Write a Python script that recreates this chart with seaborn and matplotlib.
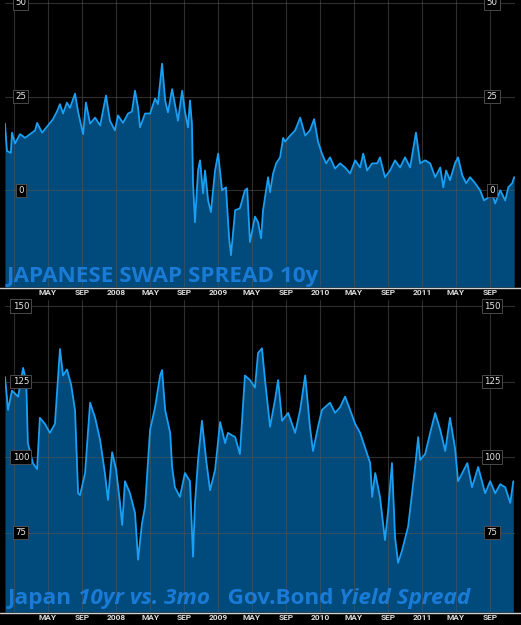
import pandas as pd
import matplotlib
matplotlib.use("Agg")
import matplotlib.pyplot as plt
import matplotlib.dates as mdates
import matplotlib.transforms as mtransforms
from matplotlib.lines import Line2D
from matplotlib.ticker import FuncFormatter
import seaborn as sns

# Japanese swap spread 10y (bp)
swap_dates = [
    "2006-11-28", "2006-12-05", "2006-12-19", "2006-12-23", "2007-01-03", "2007-01-21",
    "2007-02-08", "2007-02-26", "2007-03-16", "2007-03-23", "2007-04-10", "2007-05-01",
    "2007-05-19", "2007-06-02", "2007-06-13", "2007-06-24", "2007-07-08", "2007-07-19",
    "2007-08-06", "2007-08-17", "2007-08-24", "2007-09-04", "2007-09-14", "2007-09-29",
    "2007-10-17", "2007-11-04", "2007-11-25", "2007-12-09", "2007-12-27", "2008-01-07",
    "2008-01-25", "2008-02-12", "2008-02-26", "2008-03-08", "2008-03-19", "2008-03-26",
    "2008-04-13", "2008-05-01", "2008-05-19", "2008-05-29", "2008-06-13", "2008-06-24",
    "2008-07-04", "2008-07-19", "2008-07-29", "2008-08-09", "2008-08-24", "2008-09-03",
    "2008-09-14", "2008-09-21", "2008-09-28", "2008-10-02", "2008-10-09", "2008-10-20",
    "2008-10-27", "2008-11-07", "2008-11-14", "2008-11-25", "2008-12-05", "2008-12-20",
    "2008-12-31", "2009-01-14", "2009-01-28", "2009-02-08", "2009-02-15", "2009-03-02",
    "2009-03-19", "2009-04-06", "2009-04-14", "2009-04-24", "2009-05-12", "2009-05-23",
    "2009-06-03", "2009-06-10", "2009-06-21", "2009-06-28", "2009-07-05", "2009-07-16",
    "2009-07-27", "2009-08-10", "2009-08-21", "2009-08-28", "2009-09-15", "2009-10-03",
    "2009-10-21", "2009-11-08", "2009-11-25", "2009-12-10", "2009-12-24", "2010-01-07",
    "2010-01-22", "2010-02-05", "2010-02-23", "2010-03-13", "2010-03-31", "2010-04-18",
    "2010-05-06", "2010-05-24", "2010-06-04", "2010-06-18", "2010-07-06", "2010-07-24",
    "2010-08-03", "2010-08-21", "2010-09-08", "2010-09-26", "2010-10-14", "2010-11-01",
    "2010-11-19", "2010-12-10", "2010-12-25", "2011-01-12", "2011-01-30", "2011-02-17",
    "2011-03-07", "2011-03-18", "2011-03-28", "2011-04-11", "2011-04-29", "2011-05-10",
    "2011-05-25", "2011-06-08", "2011-06-22", "2011-07-10", "2011-07-28", "2011-08-11",
    "2011-08-26", "2011-09-09", "2011-09-20", "2011-10-08", "2011-10-26", "2011-11-06",
    "2011-11-20", "2011-11-27",
]
swap_values = [
    17.8, 10.5, 10.0, 15.4, 12.5, 15.0,
    14.0, 15.0, 16.0, 18.0, 15.4, 17.3,
    19.0, 21.0, 23.0, 20.5, 23.4, 22.0,
    25.8, 21.0, 18.6, 15.0, 23.4, 17.8,
    19.4, 17.3, 25.3, 18.6, 16.0, 20.0,
    18.0, 20.5, 21.0, 26.6, 22.0, 16.8,
    20.5, 20.5, 24.5, 23.0, 33.8, 24.0,
    20.8, 27.0, 23.0, 18.6, 26.6, 21.0,
    16.8, 24.0, 17.8, 1.8, -8.5, 5.3,
    8.0, -0.8, 5.3, -2.7, -5.8, 5.3,
    9.8, 0.0, 0.8, -12.5, -17.3, -5.3,
    -4.8, 0.0, 0.5, -13.8, -7.0, -8.5,
    -12.8, -5.3, 0.0, 3.5, -0.5, 4.5,
    7.2, 8.8, 14.0, 13.0, 14.6, 16.0,
    19.4, 14.6, 16.0, 19.0, 13.0, 9.8,
    7.2, 8.8, 5.8, 7.2, 6.1, 4.5,
    8.0, 6.1, 9.8, 5.3, 7.2, 7.2,
    8.8, 3.5, 5.3, 8.0, 6.1, 8.8,
    6.1, 15.4, 7.2, 8.0, 7.2, 3.5,
    6.1, 0.8, 5.3, 2.7, 7.2, 8.8,
    4.0, 1.9, 3.5, 1.9, 0.0, -2.7,
    -1.9, -0.8, -3.5, 0.0, -2.7, 0.8,
    1.9, 3.5,
]

# Japan 10yr vs 3mo government bond yield spread (bp)
curve_dates = [
    "2006-11-28", "2006-12-09", "2006-12-23", "2007-01-14", "2007-02-01", "2007-02-12",
    "2007-02-18", "2007-03-08", "2007-03-23", "2007-04-02", "2007-04-20", "2007-05-08",
    "2007-05-26", "2007-06-13", "2007-06-24", "2007-07-08", "2007-07-23", "2007-08-06",
    "2007-08-17", "2007-08-24", "2007-09-11", "2007-09-29", "2007-10-17", "2007-11-04",
    "2007-11-21", "2007-12-02", "2007-12-17", "2007-12-31", "2008-01-14", "2008-01-22",
    "2008-02-01", "2008-02-19", "2008-03-08", "2008-03-19", "2008-04-02", "2008-04-13",
    "2008-04-24", "2008-05-01", "2008-05-19", "2008-06-06", "2008-06-13", "2008-06-24",
    "2008-07-12", "2008-07-19", "2008-07-29", "2008-08-16", "2008-09-03", "2008-09-21",
    "2008-10-02", "2008-10-09", "2008-10-20", "2008-11-03", "2008-11-18", "2008-12-02",
    "2008-12-20", "2009-01-07", "2009-01-25", "2009-02-04", "2009-03-02", "2009-03-19",
    "2009-04-06", "2009-04-24", "2009-05-12", "2009-05-23", "2009-06-06", "2009-06-17",
    "2009-07-05", "2009-07-23", "2009-08-03", "2009-08-17", "2009-09-08", "2009-10-03",
    "2009-10-21", "2009-11-08", "2009-11-25", "2009-12-06", "2009-12-24", "2010-01-07",
    "2010-02-05", "2010-02-23", "2010-03-13", "2010-03-31", "2010-04-18", "2010-05-06",
    "2010-05-24", "2010-06-11", "2010-06-29", "2010-07-06", "2010-07-17", "2010-08-03",
    "2010-08-21", "2010-09-01", "2010-09-15", "2010-09-26", "2010-10-07", "2010-10-21",
    "2010-11-12", "2010-11-26", "2010-12-07", "2010-12-18", "2010-12-25", "2011-01-12",
    "2011-01-30", "2011-02-17", "2011-03-07", "2011-03-25", "2011-04-11", "2011-04-29",
    "2011-05-10", "2011-05-25", "2011-06-12", "2011-06-29", "2011-07-21", "2011-08-15",
    "2011-09-02", "2011-09-20", "2011-10-08", "2011-10-26", "2011-11-13", "2011-11-24",
]
curve_values = [
    126.5, 115.6, 122.0, 120.0, 129.5, 125.0,
    104.6, 98.0, 96.0, 113.0, 111.0, 108.0,
    111.0, 135.8, 127.0, 129.0, 124.0, 115.5,
    88.0, 87.4, 94.7, 118.0, 113.0, 105.6,
    94.7, 85.8, 101.6, 96.0, 85.0, 77.5,
    92.0, 88.0, 81.5, 66.0, 78.0, 83.5,
    99.0, 109.0, 116.5, 127.0, 128.8, 115.6,
    108.0, 96.7, 90.0, 86.8, 94.7, 92.0,
    67.0, 84.8, 99.0, 112.0, 99.0, 89.0,
    95.7, 111.6, 104.6, 108.0, 106.6, 101.0,
    127.0, 125.5, 123.0, 134.4, 136.0, 125.5,
    110.0, 119.0, 125.5, 112.0, 114.6, 108.0,
    115.6, 127.0, 110.0, 102.0, 110.0, 115.6,
    118.0, 114.6, 116.5, 120.0, 115.6, 111.0,
    108.0, 103.0, 98.0, 86.8, 94.7, 86.8,
    72.5, 82.0, 98.0, 73.5, 65.0, 69.0,
    77.0, 88.0, 96.7, 106.6, 99.0, 101.0,
    108.0, 114.6, 109.0, 102.0, 113.0, 103.0,
    92.0, 94.7, 98.0, 90.0, 96.7, 88.0,
    92.0, 88.0, 91.0, 90.0, 84.8, 92.0,
]

swap_yticks = [0, 25, 50]
curve_yticks = [75, 100, 125, 150]
swap_title = [("JAPANESE SWAP SPREAD 10y", "normal")]
curve_title = [("Japan ", "normal"), ("10yr vs. 3mo", "italic"),
               ("   Gov.Bond ", "normal"), ("Yield Spread", "italic")]

FILL = "#004a7c"
LINE = "#1a9ff2"
TITLE = "#1a7bd6"
X_START = pd.Timestamp("2006-11-28")
X_END = pd.Timestamp("2011-11-30")

sns.set_theme(style="dark")
plt.rcParams["font.family"] = ["Open Sans", "DejaVu Sans"]

fig = plt.figure(figsize=(5.21, 6.25), dpi=100, facecolor="black")
ax1 = fig.add_axes([5 / 521, 1 - 287 / 625, 510 / 521, 287 / 625])
ax2 = fig.add_axes([5 / 521, 1 - 612 / 625, 510 / 521, 312 / 625])


def month_label(x, pos):
    d = mdates.num2date(x)
    if d.month == 1:
        # the first January sits under the left price labels and is not printed
        if d.year == 2007:
            return ""
        return str(d.year)
    return d.strftime("%b").upper()


def draw_panel(ax, dates, values, ylim, yticks):
    df = pd.DataFrame({"date": pd.to_datetime(dates), "value": values})
    ax.set_facecolor("black")
    ax.fill_between(df["date"], df["value"], ylim[0], color=FILL, lw=0, zorder=1)
    sns.lineplot(data=df, x="date", y="value", ax=ax, color=LINE, lw=1.3, zorder=2)
    ax.set_xlim(X_START, X_END)
    ax.set_ylim(*ylim)
    ax.set_xlabel("")
    ax.set_ylabel("")
    ax.set_yticks(yticks)
    ax.set_yticklabels([])
    ax.tick_params(axis="y", length=0)
    ax.xaxis.set_major_locator(mdates.MonthLocator(bymonth=[1, 5, 9]))
    ax.xaxis.set_major_formatter(FuncFormatter(month_label))
    ax.tick_params(axis="x", length=0, pad=1.6, labelsize=6.0, colors="#dddddd")
    for lab in ax.get_xticklabels():
        lab.set_fontfamily("Roboto")
        lab.set_fontweight("bold")
    ax.grid(True, color="#555555", lw=0.8, alpha=0.55)
    ax.set_axisbelow("line")
    for s in ax.spines.values():
        s.set_visible(False)
    trans = mtransforms.blended_transform_factory(ax.transAxes, ax.transData)
    box = dict(boxstyle="square,pad=0.25", fc="black", ec="#555555", lw=0.6)
    for v in yticks:
        for xpos in (0.031, 0.955):
            ax.text(xpos, v, str(v), transform=trans, ha="center", va="center",
                    fontsize=6.2, color="#e8e8e8", family="DejaVu Sans",
                    bbox=box, zorder=5, clip_on=False)


def rich_title(ax, x, y, parts):
    renderer = fig.canvas.get_renderer()
    for s, style in parts:
        t = ax.text(x, y, s, transform=ax.transAxes, ha="left", va="baseline",
                    fontsize=16.2, fontweight="bold", fontstyle=style,
                    color=TITLE, zorder=6)
        bb = t.get_window_extent(renderer)
        x = ax.transAxes.inverted().transform((bb.x1, bb.y0))[0]


draw_panel(ax1, swap_dates, swap_values, (-25.8, 50.8), swap_yticks)
draw_panel(ax2, curve_dates, curve_values, (48.7, 152.0), curve_yticks)

rich_title(ax1, 0.004, 0.017, swap_title)
rich_title(ax2, 0.006, 0.026, curve_title)

for ypx in (287.5, 612.5):
    fig.add_artist(Line2D([0, 1], [1 - ypx / 625] * 2, transform=fig.transFigure,
                          color="#d0d0d0", lw=1.0))

fig.savefig("out.png", dpi=100, facecolor="black")
